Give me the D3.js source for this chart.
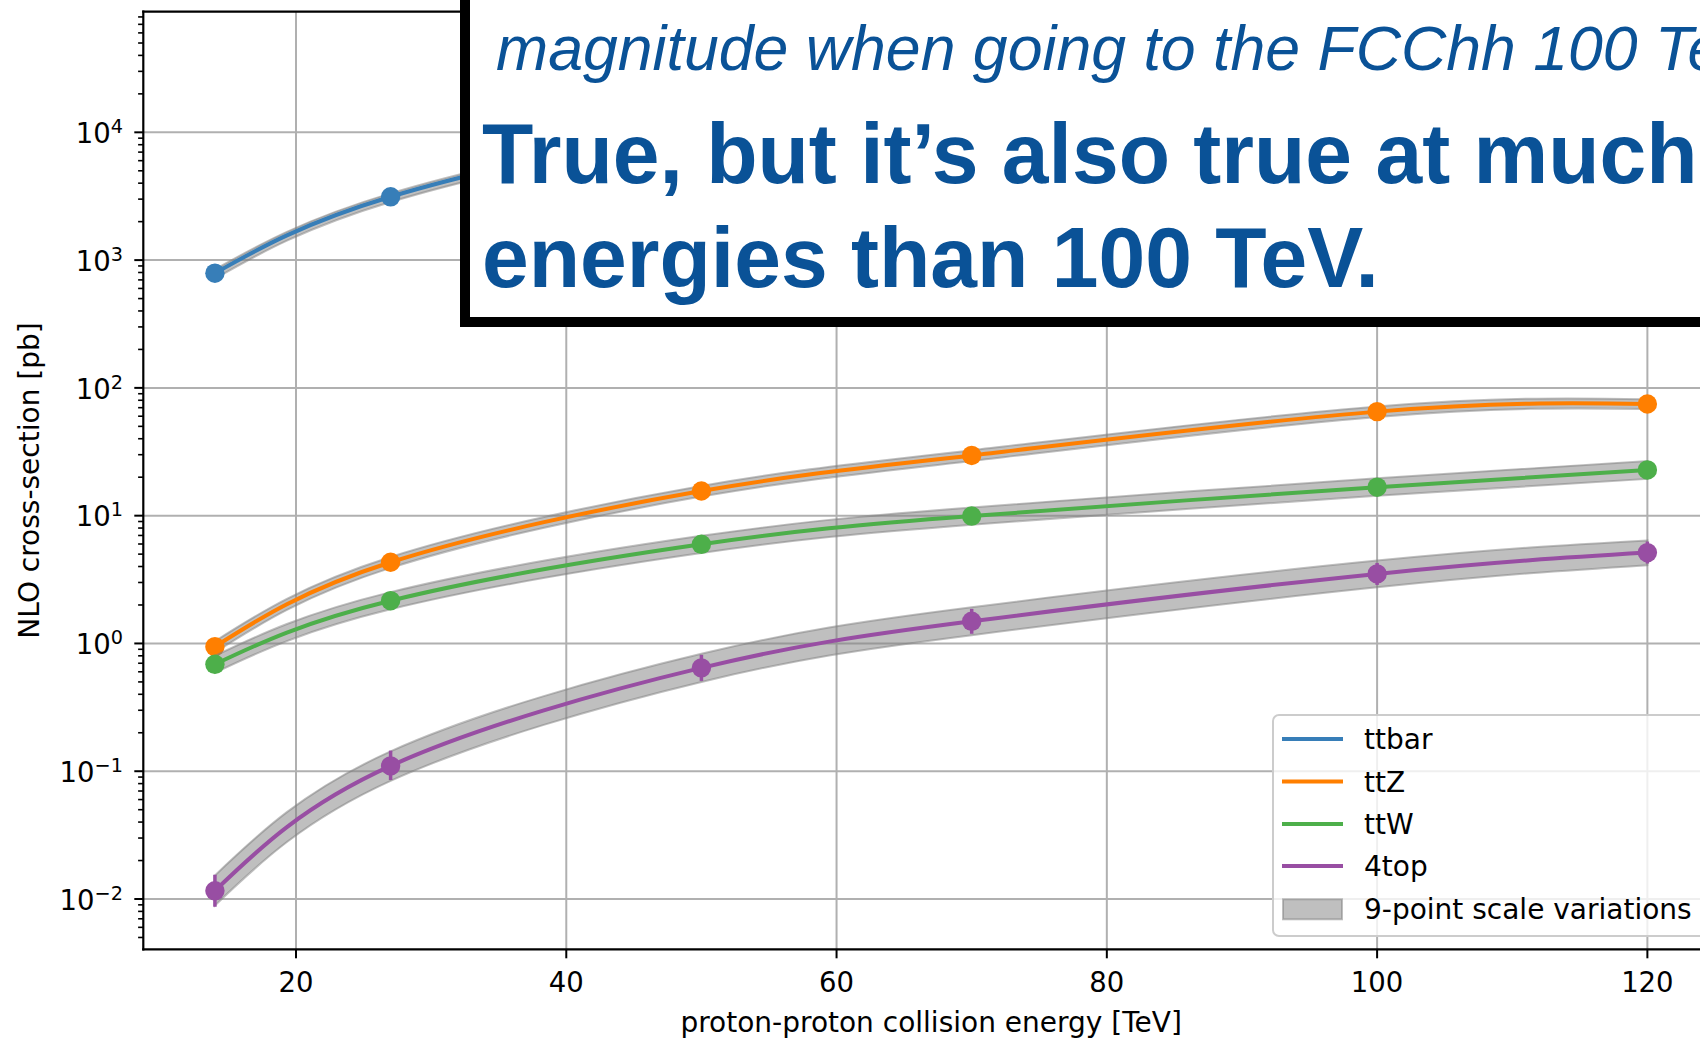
<!DOCTYPE html>
<html><head><meta charset="utf-8">
<script src="https://cdn.jsdelivr.net/npm/d3@7"></script>
<style>body{margin:0;background:#fff;overflow:hidden} svg{display:block}</style>
</head><body>
<svg id="c" width="1700" height="1039"></svg>
<script>
// ---------------- data ----------------
const energies = [14, 27, 50, 70, 100, 120];            // TeV
const processes = ["ttbar", "ttZ", "ttW", "4top"];
const colors = ["#377eb8", "#ff7f00", "#4daf4a", "#984ea3"];

const xsTtbar = [790, 3130, 11000, 19000, 31000, 37000];
const xsTtZ   = [0.944, 4.32, 15.6, 29.6, 65.2, 74.8];
const xsTtW   = [0.687, 2.16, 5.97, 9.93, 16.7, 22.8];
const xs4top  = [0.0116, 0.110, 0.644, 1.49, 3.50, 5.14];

// 9-point scale variation envelopes
const upTtbar = [845, 3330, 11700, 20200, 33000, 39500];
const dnTtbar = [715, 2850, 10000, 17300, 28200, 33800];
const upTtZ   = [1.04, 4.75, 17.1, 32.5, 71.5, 81.5];
const dnTtZ   = [0.85, 3.90, 14.1, 26.8, 59.3, 68.5];
const upTtW   = [0.80, 2.52, 6.95, 11.6, 19.6, 26.8];
const dnTtW   = [0.59, 1.85, 5.10, 8.50, 14.3, 19.4];
const up4top  = [0.0153, 0.143, 0.83, 1.92, 4.45, 6.4];
const dn4top  = [0.0089, 0.084, 0.50, 1.16, 2.75, 4.1];

// statistical error bars (4top)
const errUp4top = [0.0039, 0.035, 0.17, 0.375, 0.77, 1.13];
const errDn4top = [0.0029, 0.0245, 0.135, 0.30, 0.63, 0.92];

const xTicks = [20, 40, 60, 80, 100, 120];
const yExponents = [-2, -1, 0, 1, 2, 3, 4];
const xDomain = [8.7, 125.3];
const yDomain = [0.00404, 87900];

const xLabel = "proton-proton collision energy [TeV]";
const yLabel = "NLO cross-section [pb]";
const legendLabels = ["ttbar", "ttZ", "ttW", "4top", "9-point scale variations"];

const noteLine1 = "magnitude when going to the FCChh 100 TeV";
const noteLine2 = "True, but it\u2019s also true at much";
const noteLine3 = "energies than 100 TeV.";

// ---------------- layout ----------------
const svg = d3.select("#c");
const M = {left: 143.3, right: 1719, top: 11.7, bottom: 949.3};
const FONT = "DejaVu Sans, sans-serif";
const FS = 28;
const TFS = 27.5;

const x = d3.scaleLinear().domain(xDomain).range([M.left, M.right]);
const y = d3.scaleLog().domain(yDomain).range([M.bottom, M.top]);

svg.append("defs").append("clipPath").attr("id", "plotclip")
  .append("rect").attr("x", M.left).attr("y", M.top)
  .attr("width", M.right - M.left).attr("height", M.bottom - M.top);

// grid
const grid = svg.append("g");
grid.selectAll("line.gx").data(xTicks).join("line")
  .attr("x1", d => x(d)).attr("x2", d => x(d))
  .attr("y1", M.top).attr("y2", M.bottom)
  .attr("stroke", "#b0b0b0").attr("stroke-width", 2);
grid.selectAll("line.gy").data(yExponents).join("line")
  .attr("x1", M.left).attr("x2", M.right)
  .attr("y1", d => y(Math.pow(10, d))).attr("y2", d => y(Math.pow(10, d)))
  .attr("stroke", "#b0b0b0").attr("stroke-width", 2);

// series
const series = [
  {c: xsTtbar, up: upTtbar, dn: dnTtbar},
  {c: xsTtZ, up: upTtZ, dn: dnTtZ},
  {c: xsTtW, up: upTtW, dn: dnTtW},
  {c: xs4top, up: up4top, dn: dn4top, eu: errUp4top, ed: errDn4top}
];

const plot = svg.append("g").attr("clip-path", "url(#plotclip)");
const area = d3.area().curve(d3.curveNatural)
  .x(d => x(d.e)).y0(d => y(d.lo)).y1(d => y(d.hi));
const line = d3.line().curve(d3.curveNatural)
  .x(d => x(d.e)).y(d => y(d.v));

series.forEach((s, i) => {
  const pts = energies.map((e, k) => ({e, v: s.c[k], lo: s.dn[k], hi: s.up[k],
    eu: s.eu ? s.eu[k] : 0, ed: s.ed ? s.ed[k] : 0}));
  plot.append("path").datum(pts).attr("d", area)
    .attr("fill", "gray").attr("fill-opacity", 0.5)
    .attr("stroke", "gray").attr("stroke-opacity", 0.5).attr("stroke-width", 2);
  plot.append("path").datum(pts).attr("d", line)
    .attr("fill", "none").attr("stroke", colors[i]).attr("stroke-width", 4);
  if (s.eu) {
    plot.selectAll(null).data(pts).join("line")
      .attr("x1", d => x(d.e)).attr("x2", d => x(d.e))
      .attr("y1", d => y(d.v + d.eu)).attr("y2", d => y(d.v - d.ed))
      .attr("stroke", colors[i]).attr("stroke-width", 3.5);
  }
  plot.selectAll(null).data(pts).join("circle")
    .attr("cx", d => x(d.e)).attr("cy", d => y(d.v)).attr("r", 9.7)
    .attr("fill", colors[i]);
});

// axes spines
const ax = svg.append("g");
[[M.left, M.top, M.left, M.bottom], [M.left, M.bottom, M.right, M.bottom],
 [M.left, M.top, M.right, M.top], [M.right, M.top, M.right, M.bottom]].forEach(c => {
  ax.append("line").attr("x1", c[0]).attr("y1", c[1]).attr("x2", c[2]).attr("y2", c[3])
    .attr("stroke", "#000").attr("stroke-width", 2.2).attr("stroke-linecap", "square");
});

// x ticks
ax.selectAll(null).data(xTicks).join("line")
  .attr("x1", d => x(d)).attr("x2", d => x(d))
  .attr("y1", M.bottom).attr("y2", M.bottom + 9)
  .attr("stroke", "#000").attr("stroke-width", 2);
ax.selectAll(null).data(xTicks).join("text")
  .attr("x", d => x(d)).attr("y", 992)
  .attr("text-anchor", "middle").attr("font-family", FONT).attr("font-size", TFS)
  .attr("fill", "#000").text(d => d);

// y ticks (major + minor)
const minorVals = [];
for (let p = -3; p <= 4; p++) for (let m = 2; m <= 9; m++) {
  const v = m * Math.pow(10, p);
  if (v >= yDomain[0] && v <= yDomain[1]) minorVals.push(v);
}
ax.selectAll(null).data(minorVals).join("line")
  .attr("x1", M.left - 5.2).attr("x2", M.left)
  .attr("y1", d => y(d)).attr("y2", d => y(d))
  .attr("stroke", "#000").attr("stroke-width", 1.6);
ax.selectAll(null).data(yExponents).join("line")
  .attr("x1", M.left - 9).attr("x2", M.left)
  .attr("y1", d => y(Math.pow(10, d))).attr("y2", d => y(Math.pow(10, d)))
  .attr("stroke", "#000").attr("stroke-width", 2);
const yl = ax.selectAll(null).data(yExponents).join("text")
  .attr("x", 123).attr("y", d => y(Math.pow(10, d)) + 10.8)
  .attr("text-anchor", "end").attr("font-family", FONT).attr("font-size", TFS).attr("fill", "#000");
yl.append("tspan").text("10");
yl.append("tspan").attr("font-size", TFS * 0.7).attr("dy", -10)
  .text(d => d < 0 ? "\u2212" + Math.abs(d) : String(d));

// axis labels
svg.append("text").attr("x", (M.left + M.right) / 2).attr("y", 1032)
  .attr("text-anchor", "middle").attr("font-family", FONT).attr("font-size", FS)
  .attr("fill", "#000").text(xLabel);
svg.append("text").attr("transform", `translate(39,${(M.top + M.bottom) / 2}) rotate(-90)`)
  .attr("text-anchor", "middle").attr("font-family", FONT).attr("font-size", FS)
  .attr("fill", "#000").text(yLabel);

// legend
const lg = svg.append("g");
const LX = 1273, LY = 715, LW = 433, LH = 221;
lg.append("rect").attr("x", LX).attr("y", LY).attr("width", LW).attr("height", LH)
  .attr("rx", 6).attr("fill", "#fff").attr("fill-opacity", 0.8)
  .attr("stroke", "#cccccc").attr("stroke-width", 2);
const rowY = [739, 781.5, 824, 866, 909.3];
processes.forEach((p, i) => {
  lg.append("line").attr("x1", 1282).attr("x2", 1343).attr("y1", rowY[i]).attr("y2", rowY[i])
    .attr("stroke", colors[i]).attr("stroke-width", 4);
});
lg.append("rect").attr("x", 1283).attr("y", rowY[4] - 10).attr("width", 59).attr("height", 20)
  .attr("fill", "gray").attr("fill-opacity", 0.5)
  .attr("stroke", "gray").attr("stroke-opacity", 0.5).attr("stroke-width", 2);
lg.selectAll(null).data(legendLabels).join("text")
  .attr("x", 1364).attr("y", (d, i) => rowY[i] + 10)
  .attr("font-family", FONT).attr("font-size", FS).attr("fill", "#000").text(d => d);

// ---------------- overlay note box ----------------
const note = svg.append("g");
note.append("rect").attr("x", 465).attr("y", -60).attr("width", 1400).attr("height", 382)
  .attr("fill", "#fff").attr("stroke", "#000").attr("stroke-width", 10);

const BLUE = "#0a5297";
function measure(text, family, weight, style, size) {
  const t = svg.append("text").attr("font-family", family).attr("font-weight", weight)
    .attr("font-style", style).attr("font-size", size).text(text);
  const w = t.node().getComputedTextLength();
  t.remove();
  return w;
}
const italicFam = "Liberation Sans, Arial, sans-serif";
const boldFam = "Liberation Sans, Arial, Helvetica, sans-serif";
const s1 = 63;
const sx1 = 1142 / measure("magnitude when going to the FCChh 100", italicFam, 400, "italic", s1);
const s3 = 86;
const sx3 = 897 / measure(noteLine3, boldFam, 700, "normal", s3);

note.append("text").attr("transform", `translate(496,70) scale(${sx1},1)`)
  .attr("font-family", italicFam).attr("font-style", "italic").attr("font-weight", 400)
  .attr("font-size", s1).attr("fill", BLUE).text(noteLine1);
note.append("text").attr("transform", `translate(482,183) scale(${sx3},1)`)
  .attr("font-family", boldFam).attr("font-weight", 700)
  .attr("font-size", s3).attr("fill", BLUE).text(noteLine2);
note.append("text").attr("transform", `translate(482,287) scale(${sx3},1)`)
  .attr("font-family", boldFam).attr("font-weight", 700)
  .attr("font-size", s3).attr("fill", BLUE).text(noteLine3);
</script>
</body></html>
